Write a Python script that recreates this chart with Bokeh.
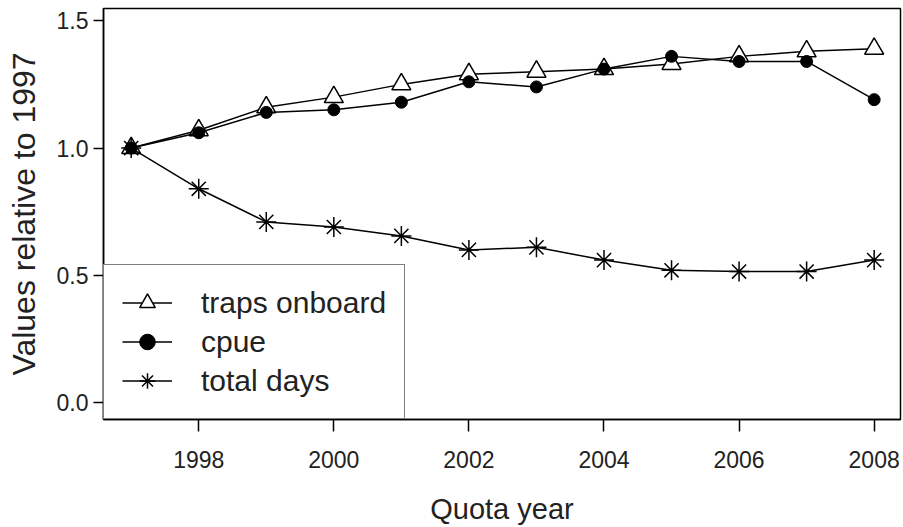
from bokeh.plotting import figure
from bokeh.models import FixedTicker, NumeralTickFormatter, Range1d
from bokeh.embed import file_html
from bokeh.resources import INLINE

years = [1997, 1998, 1999, 2000, 2001, 2002, 2003, 2004, 2005, 2006, 2007, 2008]
traps_onboard = [1.00, 1.07, 1.16, 1.20, 1.25, 1.29, 1.30, 1.31, 1.33, 1.36, 1.38, 1.39]
cpue = [1.00, 1.06, 1.14, 1.15, 1.18, 1.26, 1.24, 1.31, 1.36, 1.34, 1.34, 1.19]
total_days = [1.00, 0.84, 0.71, 0.69, 0.655, 0.60, 0.61, 0.56, 0.52, 0.515, 0.515, 0.56]
x_ticks = [1998, 2000, 2002, 2004, 2006, 2008]
y_ticks = [0.0, 0.5, 1.0, 1.5]

FONT = "Liberation Sans"
TXT = "#222222"

p = figure(width=903, height=527, output_backend="svg", toolbar_location=None,
           x_range=Range1d(1996.59, 2008.39), y_range=Range1d(-0.066, 1.548),
           min_border_left=103, min_border_right=3, min_border_top=8, min_border_bottom=104)

p.xgrid.visible = False
p.ygrid.visible = False
p.outline_line_color = "black"
p.outline_line_width = 1.5

for ax in (p.xaxis[0], p.yaxis[0]):
    ax.axis_line_color = "black"
    ax.axis_line_width = 1.5
    ax.major_tick_line_color = "black"
    ax.major_tick_line_width = 1.5
    ax.major_tick_in = 0
    ax.minor_tick_line_color = None
    ax.major_label_text_font = FONT
    ax.major_label_text_color = TXT
    ax.major_label_text_font_size = "23px"
    ax.axis_label_text_font = FONT
    ax.axis_label_text_color = TXT
    ax.axis_label_text_font_style = "normal"

p.xaxis.ticker = FixedTicker(ticks=x_ticks)
p.xaxis.major_tick_out = 12
p.xaxis.major_label_standoff = 19
p.xaxis.axis_label = "Quota year"
p.xaxis.axis_label_text_font_size = "29px"
p.xaxis.axis_label_standoff = 22

p.yaxis.ticker = FixedTicker(ticks=y_ticks)
p.yaxis.formatter = NumeralTickFormatter(format="0.0")
p.yaxis.major_tick_out = 10
p.yaxis.major_label_standoff = 5
p.yaxis.axis_label = "Values relative to 1997"
p.yaxis.axis_label_text_font_size = "32px"
p.yaxis.axis_label_standoff = 12

lw = 1.5
p.line(years, traps_onboard, line_color="black", line_width=lw, legend_label="traps onboard")
p.scatter(years, traps_onboard, marker="triangle", size=19, fill_color="white",
          line_color="black", line_width=1.5, legend_label="traps onboard")
p.line(years, cpue, line_color="black", line_width=lw, legend_label="cpue")
p.scatter(years, cpue, marker="circle", size=12, fill_color="black",
          line_color="black", legend_label="cpue")
p.line(years, total_days, line_color="black", line_width=lw, legend_label="total days")
p.scatter(years, total_days, marker="asterisk", size=20, line_color="black",
          line_width=1.5, legend_label="total days")

lg = p.legend[0]
lg.location = "bottom_left"
lg.margin = 0
lg.padding = 18
lg.spacing = 0
lg.glyph_width = 50
lg.glyph_height = 39
lg.label_height = 39
lg.label_standoff = 29
lg.label_text_font = FONT
lg.label_text_font_size = "30px"
lg.label_text_color = TXT
lg.border_line_color = "black"
lg.border_line_width = 1.5
lg.background_fill_alpha = 1.0

open("out.html", "w").write(file_html(p, INLINE))
